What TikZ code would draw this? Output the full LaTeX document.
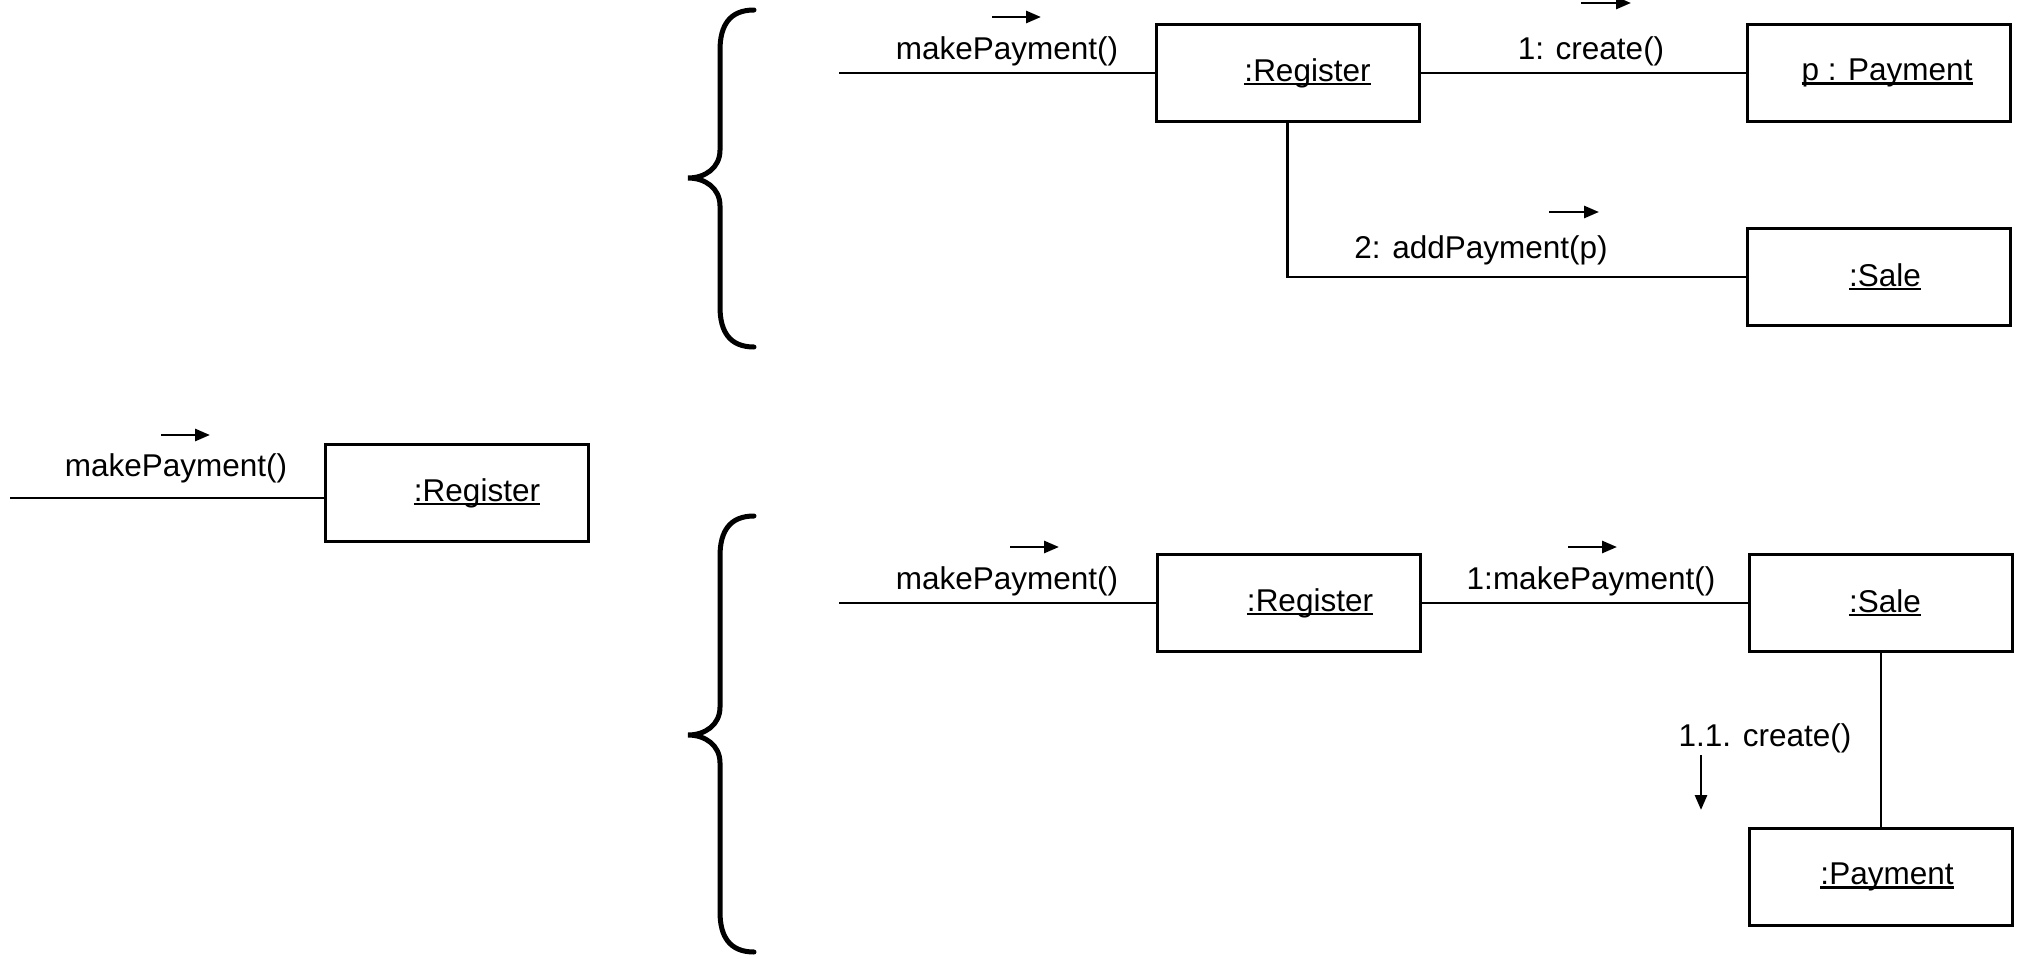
\documentclass[tikz,border=0pt]{standalone}
\usepackage{fontspec}
\setmainfont{Liberation Sans}
\usetikzlibrary{arrows.meta}
% object names are underlined just below the baseline
\newcommand\objname[1]{\setbox0\hbox{#1}\rlap{\rule[-4pt]{\wd0}{2.2pt}}\box0}
\tikzset{
  obj/.style={draw, line width=3pt, minimum width=263pt, minimum height=97pt, inner sep=0pt,
              font=\fontsize{31.5}{37}\selectfont},
  link/.style={line width=2.8pt},
  msg/.style={font=\fontsize{31.5}{37}\selectfont, inner sep=0pt},
  dirarrow/.style={line width=2.8pt, -{Triangle[length=15pt,width=12pt]}},
  bracket/.style={line width=5pt, line cap=round}
}
\begin{document}
\begin{tikzpicture}[x=1pt, y=-1pt]
\useasboundingbox (0,0) rectangle (2017,955);

% ---------- single message ----------
\node[obj] (reg0) at (457,493) {\hspace*{40pt}\objname{:Register}};
\coordinate (in0) at (10,498);
\draw[link] (in0) -- (in0 -| reg0.west);
\node[msg] (m0) at (176,468) {makePayment()};
\coordinate (a0s) at (161,435); \coordinate (a0e) at (210,435);
\draw[dirarrow] (a0s) -- (a0e);

% ---------- upper alternative ----------
\draw[bracket] (754,10) .. controls (730,10) and (720,25) .. (720,50) -- (720,150)
  .. controls (720,168) and (705,178) .. (688,178)
  .. controls (705,178) and (720,188) .. (720,206) -- (720,307)
  .. controls (720,332) and (730,347) .. (754,347);

\node[obj] (reg1) at (1287.5,73) {\hspace*{40pt}\objname{:Register}};
\node[obj] (pay1) at (1879,73) {\hspace*{16pt}\objname{p : Payment}};
\node[obj] (sale1) at (1879,277) {\hspace*{12pt}\objname{:Sale}};
\coordinate (in1) at (839,73);
\draw[link] (in1) -- (reg1.west);
\draw[link] (reg1.east) -- (pay1.west);
\draw[link] (reg1.south) |- (sale1.west);

\node[msg] (m1) at (1007,51) {makePayment()};
\node[msg] (m2) at (1591,51) {1: create()};
\node[msg] (m3) at (1481,250) {2: addPayment(p)};
\coordinate (a1s) at (992,17);  \coordinate (a1e) at (1041,17);
\coordinate (a2s) at (1581,3);  \coordinate (a2e) at (1631,3);
\coordinate (a3s) at (1549,212); \coordinate (a3e) at (1599,212);
\draw[dirarrow] (a1s) -- (a1e);
\draw[dirarrow] (a2s) -- (a2e);
\draw[dirarrow] (a3s) -- (a3e);

% ---------- lower alternative ----------
\draw[bracket] (754,516) .. controls (730,516) and (720,531) .. (720,556) -- (720,707)
  .. controls (720,725) and (705,735) .. (688,735)
  .. controls (705,735) and (720,745) .. (720,763) -- (720,912)
  .. controls (720,937) and (730,952) .. (754,952);

\node[obj] (reg2) at (1289,603) {\hspace*{42pt}\objname{:Register}};
\node[obj] (sale2) at (1881,603) {\hspace*{8pt}\objname{:Sale}};
\node[obj] (pay2) at (1881,877) {\hspace*{12pt}\objname{:Payment}};
\coordinate (in2) at (839,603);
\draw[link] (in2) -- (reg2.west);
\draw[link] (reg2.east) -- (sale2.west);
\draw[link] (sale2.south) -- (pay2.north);

\node[msg] (m4) at (1007,581) {makePayment()};
\node[msg] (m5) at (1591,581) {1:makePayment()};
\node[msg] (m6) at (1765,738) {1.1. create()};
\coordinate (a4s) at (1010,547); \coordinate (a4e) at (1059,547);
\coordinate (a5s) at (1568,547); \coordinate (a5e) at (1617,547);
\coordinate (a6s) at (1701,755); \coordinate (a6e) at (1701,810);
\draw[dirarrow] (a4s) -- (a4e);
\draw[dirarrow] (a5s) -- (a5e);
\draw[dirarrow] (a6s) -- (a6e);
\end{tikzpicture}
\end{document}
